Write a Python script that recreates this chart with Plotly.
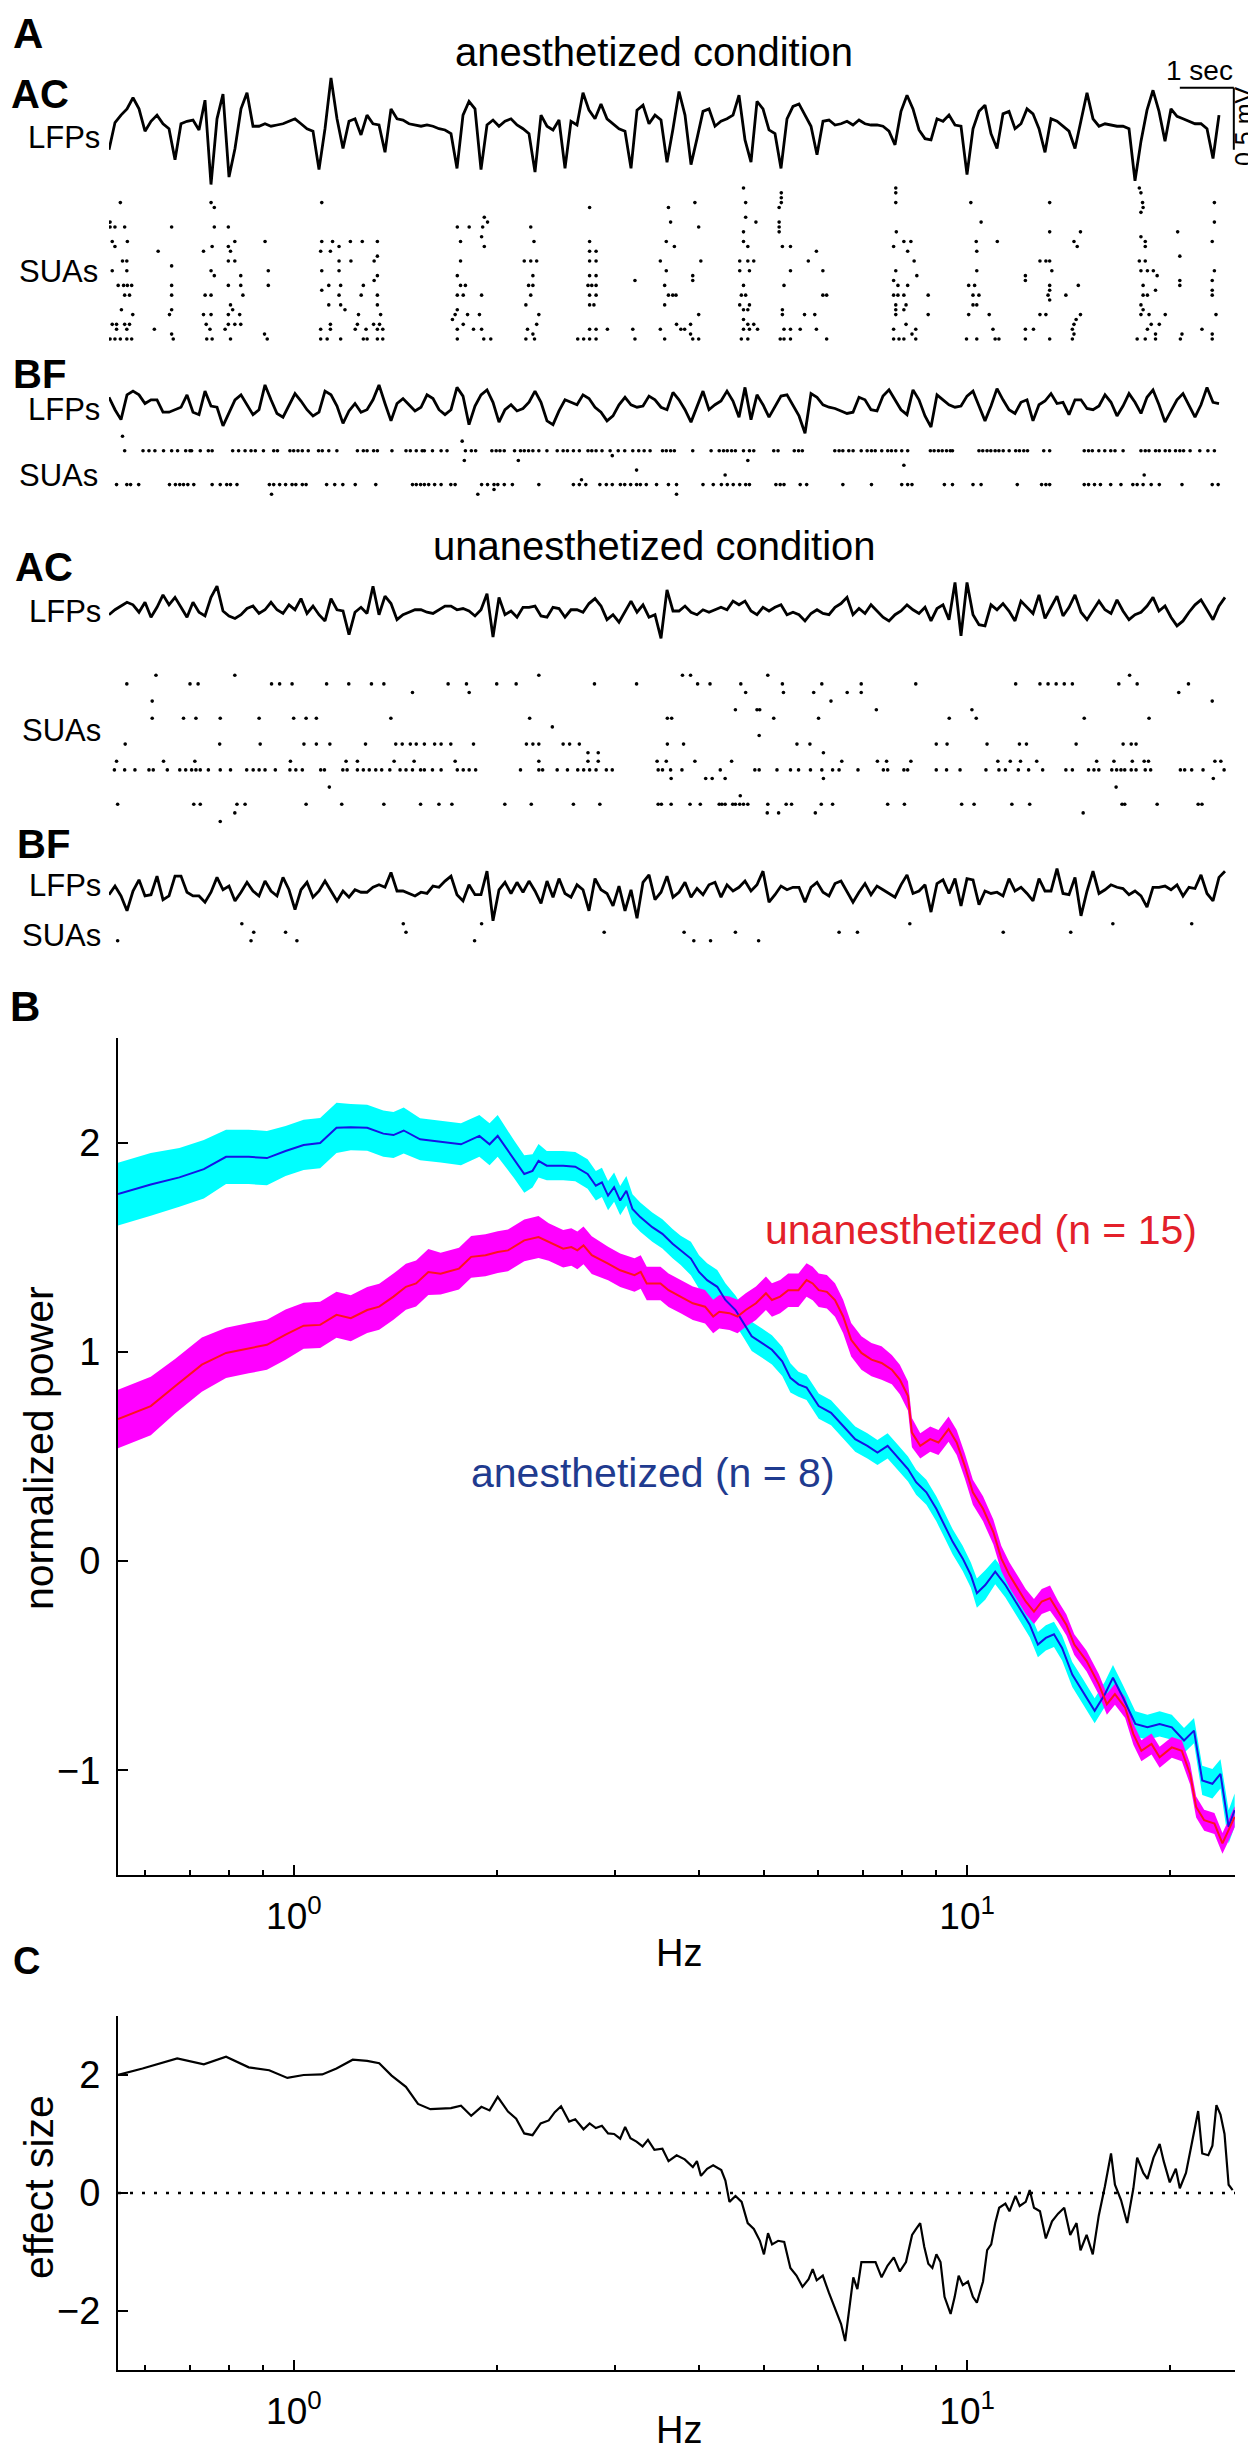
import numpy as np
import plotly.graph_objects as go

W, H = 1256, 2453
FONT = "Liberation Sans, Arial, Helvetica, sans-serif"

# ---------------- Panel A: LFP traces (mV), one value every 1/9 s ----------------
LFP_DT = 1 / 9

AC_AN_LFP = [
    -0.20, 0.02, 0.08, 0.13, 0.22, 0.13, -0.05, 0.03, 0.08, 0.01,
    -0.03, -0.28, 0.01, 0.03, 0.04, -0.04, 0.20, -0.48, 0.05, 0.25,
    -0.42, -0.19, 0.13, 0.26, -0.01, -0.01, 0.01, -0.01, 0.00, 0.01,
    0.03, 0.05, 0.01, -0.03, -0.05, -0.36, -0.03, 0.38, 0.05, -0.19,
    0.03, 0.05, -0.08, 0.08, 0.01, 0.00, -0.22, 0.13, 0.05, 0.04,
    0.01, 0.00, -0.01, 0.00, -0.01, -0.03, -0.04, -0.07, -0.35, 0.08,
    0.19, 0.13, -0.36, 0.00, 0.04, -0.01, 0.03, 0.05, 0.00, -0.03,
    -0.07, -0.38, 0.08, -0.01, -0.04, 0.04, -0.35, 0.03, 0.00, 0.26,
    0.12, 0.05, 0.17, 0.05, 0.01, -0.03, -0.05, -0.35, 0.12, 0.16,
    0.01, 0.08, 0.04, -0.30, -0.03, 0.27, 0.08, -0.32, -0.11, 0.11,
    0.13, -0.01, 0.03, 0.05, 0.08, 0.24, -0.12, -0.30, 0.19, 0.13,
    -0.04, -0.07, -0.35, 0.05, 0.15, 0.17, 0.08, -0.01, -0.24, 0.03,
    0.04, 0.00, 0.01, 0.03, 0.00, 0.04, 0.01, 0.00, 0.00, -0.01,
    -0.05, -0.16, 0.11, 0.24, 0.13, -0.04, -0.11, -0.12, 0.05, 0.03,
    0.08, 0.00, -0.01, -0.40, -0.03, 0.11, 0.16, -0.07, -0.19, 0.09,
    0.11, -0.03, 0.01, 0.13, 0.09, -0.03, -0.22, 0.05, 0.03, -0.01,
    -0.05, -0.19, 0.05, 0.26, 0.05, -0.01, 0.01, 0.00, -0.01, -0.01,
    -0.03, -0.45, -0.13, 0.12, 0.28, 0.11, -0.13, 0.13, 0.07, 0.05,
    0.03, 0.01, 0.01, -0.03, -0.27, 0.08,
]

BF_AN_LFP = [
    0.07, -0.03, -0.11, 0.09, 0.12, 0.09, 0.02, 0.05, 0.05, -0.05,
    -0.05, -0.03, -0.01, 0.09, -0.05, -0.07, 0.12, 0.00, -0.01, -0.16,
    -0.06, 0.05, 0.09, 0.01, -0.07, -0.03, 0.17, 0.05, -0.06, -0.09,
    0.01, 0.10, 0.04, -0.03, -0.08, -0.05, 0.12, 0.09, 0.00, -0.14,
    -0.04, 0.02, -0.05, -0.03, 0.05, 0.17, 0.02, -0.12, 0.02, 0.06,
    0.01, -0.04, -0.01, 0.09, 0.06, -0.03, -0.07, -0.03, 0.15, 0.08,
    -0.15, 0.00, 0.09, 0.13, 0.03, -0.13, -0.03, 0.01, -0.04, -0.02,
    0.03, 0.12, 0.03, -0.12, -0.15, -0.04, 0.05, 0.03, 0.01, 0.09,
    0.06, -0.01, -0.05, -0.12, -0.08, 0.01, 0.07, 0.01, -0.01, 0.00,
    0.08, 0.05, -0.01, -0.03, 0.11, 0.05, -0.03, -0.13, -0.01, 0.12,
    -0.03, 0.01, 0.04, 0.12, 0.04, -0.09, 0.15, -0.11, 0.09, 0.01,
    -0.09, 0.00, 0.08, 0.09, 0.01, -0.08, -0.22, 0.10, 0.07, 0.01,
    -0.01, -0.02, -0.04, -0.06, -0.05, 0.07, 0.05, -0.03, -0.04, 0.08,
    0.13, 0.05, -0.03, -0.07, 0.13, 0.05, -0.08, -0.17, 0.09, 0.05,
    0.01, -0.01, 0.00, 0.08, 0.12, 0.00, -0.12, 0.00, 0.14, 0.05,
    -0.03, -0.06, 0.03, 0.05, -0.12, 0.01, 0.04, 0.10, 0.02, 0.03,
    -0.07, 0.05, 0.05, -0.02, -0.03, 0.00, 0.09, 0.03, -0.08, 0.00,
    0.10, 0.03, -0.06, 0.07, 0.13, 0.01, -0.13, -0.04, 0.05, 0.10,
    0.01, -0.09, 0.01, 0.15, 0.03, 0.02,
]

AC_UN_LFP = [
    -0.03, 0.01, 0.04, 0.07, 0.05, -0.01, 0.07, -0.05, 0.03, 0.13,
    0.05, 0.11, 0.03, -0.05, 0.07, -0.01, -0.04, 0.11, 0.20, 0.00,
    -0.04, -0.06, -0.03, 0.02, 0.04, -0.02, 0.01, 0.07, 0.01, -0.02,
    0.05, 0.01, 0.10, -0.02, 0.04, -0.03, -0.08, 0.10, 0.01, 0.00,
    -0.19, -0.01, 0.03, -0.02, 0.20, -0.03, 0.12, 0.06, -0.07, -0.03,
    -0.01, 0.01, 0.01, -0.01, -0.02, 0.01, 0.04, 0.04, 0.01, 0.02,
    0.00, -0.04, 0.01, 0.14, -0.21, 0.11, -0.03, 0.00, -0.05, 0.03,
    0.03, 0.04, -0.04, -0.05, 0.03, 0.02, -0.05, 0.01, 0.01, -0.01,
    0.06, 0.10, 0.04, -0.07, -0.03, -0.09, -0.01, 0.08, -0.01, 0.05,
    -0.05, -0.03, -0.22, 0.17, 0.00, 0.00, 0.04, -0.01, -0.03, 0.01,
    -0.01, 0.01, 0.03, 0.01, 0.08, 0.05, 0.08, 0.00, -0.03, 0.03,
    0.00, 0.03, 0.05, -0.03, -0.01, -0.03, -0.08, -0.02, 0.01, -0.02,
    -0.03, 0.03, 0.06, 0.11, -0.03, 0.02, -0.02, 0.05, 0.00, -0.05,
    -0.08, -0.03, 0.00, 0.05, 0.01, -0.02, 0.03, -0.08, 0.02, 0.05,
    -0.07, 0.23, -0.20, 0.23, -0.03, -0.11, -0.12, 0.05, 0.01, 0.06,
    0.00, -0.08, 0.08, 0.03, -0.02, 0.13, -0.06, 0.03, 0.12, -0.04,
    0.03, 0.13, -0.01, -0.07, 0.01, 0.08, 0.01, -0.02, 0.09, 0.00,
    -0.07, -0.03, -0.01, 0.04, 0.11, 0.00, 0.04, -0.05, -0.12, -0.08,
    -0.01, 0.05, 0.09, 0.01, -0.07, 0.04, 0.11,
]

BF_UN_LFP = [
    -0.03, 0.04, -0.04, -0.16, 0.00, 0.09, -0.04, -0.03, 0.12, -0.07,
    -0.04, 0.12, 0.12, -0.01, -0.04, -0.04, -0.09, -0.01, 0.11, 0.01,
    0.04, -0.08, -0.01, 0.07, 0.00, -0.04, 0.08, 0.00, -0.04, 0.11,
    0.01, -0.15, 0.01, 0.07, -0.05, 0.00, 0.08, 0.00, -0.08, 0.00,
    -0.05, 0.01, -0.01, -0.01, 0.03, 0.05, 0.03, 0.15, 0.00, 0.00,
    -0.02, -0.04, -0.01, -0.02, 0.04, 0.03, 0.08, 0.12, -0.03, -0.08,
    0.05, -0.03, -0.03, 0.16, -0.24, 0.01, 0.07, -0.02, 0.07, -0.01,
    0.08, 0.00, -0.10, 0.08, -0.05, 0.10, -0.02, -0.05, 0.05, 0.01,
    -0.16, 0.10, 0.01, -0.02, -0.12, 0.04, -0.16, 0.01, -0.22, 0.07,
    0.13, -0.07, -0.01, 0.12, -0.05, -0.01, 0.07, -0.05, 0.02, -0.03,
    0.05, 0.07, -0.05, 0.05, 0.00, 0.03, 0.08, 0.00, 0.05, 0.16,
    -0.09, -0.03, 0.04, 0.01, 0.03, 0.03, -0.09, 0.03, 0.07, -0.01,
    -0.04, 0.06, 0.08, -0.01, -0.09, -0.01, 0.06, -0.03, 0.04, 0.01,
    -0.02, -0.05, 0.05, 0.13, -0.02, 0.00, 0.05, -0.17, 0.06, 0.09,
    -0.02, 0.10, -0.12, 0.10, 0.09, -0.11, 0.00, -0.02, -0.01, -0.04,
    0.10, 0.00, 0.03, -0.02, -0.08, 0.10, 0.00, 0.00, 0.18, -0.02,
    -0.03, 0.11, -0.20, 0.00, 0.16, -0.02, 0.01, 0.05, 0.03, 0.02,
    -0.03, 0.00, -0.04, -0.13, 0.03, 0.03, 0.04, 0.01, 0.05, -0.04,
    0.03, 0.02, 0.13, -0.02, -0.08, 0.11, 0.16,
]

# ---------------- Panel A: spike rasters, spike times (s) per unit (row) ----------------
AC_AN_SPIKES = [
    [11.75, 14.57, 19.08],
    [12.45, 14.57, 19.11],
    [12.45],
    [0.21, 1.89, 3.94, 10.85, 11.79, 12.45, 14.57, 15.96, 17.42, 19.14, 20.47],
    [1.95, 8.90, 10.36, 12.41, 19.15],
    [19.11],
    [6.95, 11.79],
    [0.02, 7.01, 10.40, 11.98, 12.41, 16.15, 20.47],
    [0.02, 0.11, 0.29, 1.16, 1.95, 2.21, 6.45, 6.67, 6.92, 7.81, 10.92, 12.41],
    [11.75, 12.41, 14.58, 17.42, 17.99, 19.79],
    [6.90, 19.11],
    [0.06, 0.34, 2.33, 2.89, 3.94, 4.14, 4.47, 4.69, 4.97, 6.51, 7.87, 8.90, 10.32,
     11.75, 14.72, 14.85, 16.06, 16.45, 17.87, 19.19, 20.43],
    [0.11, 1.91, 2.21, 4.26, 6.95, 10.47, 11.83, 12.47, 12.62, 14.53, 17.93, 19.19],
    [0.91, 1.75, 2.25, 3.92, 4.10, 8.90, 9.02, 13.10, 14.79, 16.07],
    [4.97, 19.83],
    [0.25, 0.33, 2.21, 2.33, 4.26, 4.48, 4.91, 6.51, 7.69, 7.81, 7.92, 8.90, 9.02,
     10.21, 10.96, 11.68, 11.83, 11.94, 12.95, 14.91, 17.24, 17.35, 17.42, 19.08, 19.19],
    [1.16],
    [0.06, 0.33, 1.89, 2.95, 3.94, 4.26, 10.32, 11.68, 11.86, 12.62, 13.22, 14.57,
     16.07, 17.46, 19.11, 19.23, 19.34, 20.47],
    [1.95, 2.44, 4.97, 6.45, 7.85, 8.90, 9.02, 10.81, 14.96, 16.97, 19.41],
    [4.91, 9.74, 10.81, 14.53, 16.97, 19.83, 20.43],
    [0.17, 0.27, 0.34, 0.42, 1.16, 2.21, 2.44, 2.95, 4.07, 4.29, 4.71, 6.51, 6.60,
     7.77, 7.85, 8.87, 8.94, 9.02, 10.29, 11.75, 12.50, 14.61, 14.79, 15.92, 16.03,
     17.42, 17.95, 19.15, 19.83],
    [3.94, 17.42, 19.38, 20.43],
    [0.29, 0.38, 1.16, 1.78, 1.89, 2.48, 4.26, 4.67, 4.97, 6.45, 6.56, 6.90, 7.81,
     8.90, 9.02, 10.36, 10.44, 10.50, 11.71, 11.79, 13.22, 13.29, 14.53, 14.61, 14.72,
     15.17, 16.00, 16.11, 17.39, 17.72, 19.15, 19.23, 20.43],
    [17.42],
    [2.25, 4.07, 4.29, 4.97, 7.72, 8.90, 8.98, 10.29, 11.68, 11.86, 14.57, 14.76,
     16.00, 16.07, 19.11],
    [0.23, 1.16, 2.29, 4.37, 6.45, 11.75, 11.83, 12.47, 14.57, 14.72, 19.15],
    [0.44, 1.12, 1.75, 1.89, 2.21, 2.42, 4.62, 5.03, 6.41, 6.64, 6.86, 7.96, 10.92,
     12.47, 12.88, 13.07, 14.57, 15.17, 15.92, 16.30, 17.24, 17.35, 17.99, 19.11,
     19.26, 19.56, 20.50],
    [6.36, 11.75, 17.91],
    [0.06, 0.14, 0.29, 0.38, 1.80, 2.21, 2.33, 2.44, 4.10, 4.60, 4.90, 5.01, 6.56,
     7.92, 10.51, 10.77, 11.83, 11.94, 14.76, 17.87, 19.30, 19.45],
    [0.14, 0.33, 0.84, 1.87, 2.15, 3.92, 4.10, 4.56, 4.76, 4.97, 5.07, 6.45, 6.75,
     6.90, 7.75, 8.90, 9.02, 9.23, 9.70, 10.21, 10.59, 10.66, 11.75, 11.86, 12.01,
     12.50, 12.62, 12.80, 13.10, 14.53, 14.94, 16.37, 16.97, 17.12, 17.84, 19.23, 20.24],
    [1.16, 2.88, 7.85, 10.77, 14.87, 17.87, 19.38, 19.87, 20.43],
    [0.02, 0.11, 0.21, 0.33, 0.42, 1.19, 1.81, 1.91, 2.25, 2.93, 3.92, 4.04, 4.29,
     4.71, 4.78, 4.97, 5.07, 6.45, 6.94, 7.07, 7.72, 7.88, 8.68, 8.79, 8.90, 9.02,
     9.74, 10.29, 10.81, 10.92, 11.71, 11.83, 12.43, 12.50, 12.62, 13.29, 14.53,
     14.63, 14.72, 14.94, 15.88, 16.07, 16.41, 16.48, 16.97, 17.42, 17.84, 19.04,
     19.19, 19.38, 19.84, 20.43],
]

BF_AN_SPIKES = [
    [0.25],
    [6.54],
    [],
    [0.29, 0.63, 0.74, 0.85, 1.01, 1.16, 1.27, 1.42, 1.50, 1.53, 1.69, 1.84, 1.91,
     2.29, 2.40, 2.52, 2.63, 2.71, 2.86, 3.05, 3.12, 3.35, 3.42, 3.50, 3.58, 3.69,
     3.88, 3.95, 4.07, 4.22, 4.60, 4.71, 4.78, 4.90, 4.97, 5.24, 5.50, 5.58, 5.69,
     5.80, 5.84, 5.99, 6.15, 6.26, 6.60, 6.71, 6.79, 7.09, 7.17, 7.24, 7.32, 7.51,
     7.62, 7.69, 7.77, 7.85, 7.96, 8.11, 8.30, 8.41, 8.49, 8.60, 8.71, 8.87, 8.94,
     9.02, 9.13, 9.28, 9.43, 9.55, 9.70, 9.81, 9.91, 10.02, 10.25, 10.32, 10.40,
     10.47, 10.81, 11.15, 11.30, 11.38, 11.45, 11.53, 11.60, 11.75, 11.86, 11.94,
     12.31, 12.39, 12.69, 12.77, 12.84, 13.44, 13.52, 13.59, 13.70, 13.78, 13.93,
     14.04, 14.12, 14.19, 14.31, 14.42, 14.49, 14.57, 14.68, 14.79, 15.21, 15.28,
     15.36, 15.43, 15.51, 15.58, 15.62, 16.11, 16.18, 16.26, 16.33, 16.41, 16.48,
     16.56, 16.67, 16.79, 16.86, 16.94, 17.01, 17.31, 17.42, 18.06, 18.14, 18.21,
     18.33, 18.44, 18.55, 18.63, 18.78, 19.11, 19.19, 19.26, 19.38, 19.45, 19.56,
     19.64, 19.75, 19.83, 19.90, 20.02, 20.20, 20.35, 20.47],
    [9.32],
    [6.58, 7.58, 11.83],
    [14.72],
    [9.77],
    [11.41, 19.17],
    [8.75],
    [0.14, 0.33, 0.40, 0.55, 1.12, 1.23, 1.31, 1.38, 1.46, 1.57, 1.91, 2.06, 2.18,
     2.25, 2.37, 2.97, 3.05, 3.16, 3.27, 3.39, 3.46, 3.58, 3.65, 4.03, 4.18, 4.33,
     4.56, 4.94, 5.62, 5.69, 5.77, 5.84, 5.92, 6.03, 6.15, 6.33, 6.41, 6.90, 7.01,
     7.13, 7.20, 7.32, 7.47, 7.96, 8.60, 8.71, 8.83, 9.09, 9.21, 9.32, 9.47, 9.55,
     9.66, 9.77, 9.84, 9.95, 10.14, 10.36, 10.51, 11.00, 11.19, 11.34, 11.45, 11.56,
     11.68, 11.79, 11.86, 12.35, 12.43, 12.50, 12.80, 12.92, 13.59, 14.12, 14.68,
     14.79, 14.87, 15.47, 15.62, 16.00, 16.15, 16.82, 17.27, 17.35, 17.42, 18.06,
     18.14, 18.25, 18.36, 18.55, 18.74, 18.96, 19.04, 19.15, 19.30, 19.45, 19.87,
     20.43, 20.54],
    [7.13],
    [3.01, 6.83, 10.51],
]

AC_UN_SPIKES = [
    [0.87, 2.33, 7.96, 10.62, 10.77, 12.20, 18.90],
    [0.33, 1.50, 1.65, 3.01, 3.16, 3.39, 4.03, 4.44, 4.86, 5.09, 6.28, 6.62, 7.18,
     7.54, 8.99, 9.77, 10.90, 11.13, 11.70, 12.47, 13.20, 13.93, 14.94, 16.79, 17.24,
     17.39, 17.54, 17.69, 17.84, 18.70, 19.04, 19.99],
    [5.62, 6.67, 11.79, 12.49, 13.05, 13.67, 13.93, 19.81],
    [0.80, 13.37, 20.43],
    [11.60, 12.00, 12.05, 14.21, 15.98],
    [0.80, 1.38, 1.61, 2.06, 2.78, 3.42, 3.65, 3.84, 5.22, 7.79, 10.34, 10.42, 12.31,
     13.14, 15.56, 16.06, 18.06, 19.26],
    [8.21],
    [12.04],
    [0.30, 2.05, 2.80, 3.61, 3.84, 4.09, 4.75, 5.31, 5.43, 5.58, 5.69, 5.84, 6.03,
     6.15, 6.33, 6.75, 7.73, 7.85, 7.96, 8.41, 8.53, 8.71, 10.34, 10.64, 12.74, 12.98,
     15.32, 15.52, 16.26, 16.86, 16.99, 17.91, 18.78, 18.93, 19.02],
    [8.87, 9.06, 13.23],
    [0.14, 1.01, 1.59, 3.36, 4.39, 4.60, 5.28, 5.65, 6.41, 7.96, 8.87, 9.06, 10.15,
     10.32, 10.85, 11.53, 13.57, 14.23, 14.40, 14.85, 16.46, 16.69, 16.88, 17.18,
     18.29, 18.61, 18.95, 19.17, 19.25, 20.48, 20.59],
    [0.10, 0.29, 0.48, 0.74, 0.82, 1.08, 1.31, 1.42, 1.53, 1.61, 1.69, 1.84, 2.06,
     2.25, 2.55, 2.67, 2.78, 2.89, 3.08, 3.35, 3.46, 3.58, 3.92, 3.99, 4.33, 4.41,
     4.60, 4.71, 4.82, 4.94, 5.05, 5.20, 5.39, 5.50, 5.62, 5.77, 5.84, 5.99, 6.15,
     6.45, 6.56, 6.67, 6.79, 7.62, 7.96, 8.03, 8.30, 8.49, 8.68, 8.79, 8.90, 9.02,
     9.21, 9.32, 10.17, 10.25, 10.40, 10.61, 11.32, 11.96, 12.04, 12.37, 12.62, 12.77,
     12.99, 13.20, 13.40, 13.52, 13.87, 14.34, 14.42, 14.72, 14.79, 15.32, 15.51,
     15.76, 16.24, 16.48, 16.60, 16.84, 17.03, 17.29, 17.72, 17.84, 18.14, 18.24,
     18.33, 18.57, 18.66, 18.74, 18.81, 18.93, 19.02, 19.19, 19.29, 19.84, 19.92,
     20.05, 20.26, 20.65],
    [10.41, 11.05, 11.17, 11.41, 13.23, 20.45],
    [4.08, 18.65],
    [11.69],
    [0.16, 1.57, 1.69, 2.37, 2.52, 3.65, 4.31, 5.09, 5.77, 6.11, 6.35, 7.33, 7.82,
     8.60, 9.09, 10.17, 10.23, 10.41, 10.76, 10.95, 11.30, 11.35, 11.41, 11.55, 11.60,
     11.68, 11.75, 11.83, 12.20, 12.54, 12.64, 13.19, 13.40, 14.42, 14.73, 15.79,
     16.02, 16.72, 17.05, 18.76, 18.81, 19.41, 20.17, 20.24],
    [2.33, 12.19, 12.40, 13.08, 18.04],
    [2.06],
]

BF_UN_SPIKES = [
    [2.46, 5.45, 6.90, 14.83, 18.59, 20.05],
    [2.68, 3.27, 5.50, 9.17, 10.65, 11.60, 13.52, 13.86, 16.56, 17.81],
    [0.16, 2.63, 3.48, 6.77, 10.83, 11.14, 12.03],
]

SCALE_SEC = 1.0
SCALE_MV = 0.5

# ---------------- Panel B: normalized power spectra ----------------
AN_HZ = [
    0.548, 0.613, 0.676, 0.735, 0.793, 0.857, 0.912, 0.972, 1.034, 1.094,
    1.157, 1.215, 1.285, 1.358, 1.406, 1.456, 1.540, 1.652, 1.771, 1.886,
    1.953, 2.008, 2.123, 2.199, 2.262, 2.309, 2.375, 2.512, 2.618, 2.731,
    2.809, 2.868, 2.929, 2.990, 3.053, 3.118, 3.184, 3.270, 3.407, 3.527,
    3.652, 3.755, 3.888, 3.998, 4.110, 4.255, 4.375, 4.529, 4.657, 4.787,
    4.960, 5.130, 5.314, 5.464, 5.617, 5.775, 6.020, 6.280, 6.545, 6.820,
    7.110, 7.360, 7.620, 7.890, 8.170, 8.400, 8.700, 9.000, 9.260, 9.520,
    9.850, 10.13, 10.34, 10.64, 11.01, 11.40, 11.89, 12.39, 12.74, 13.09,
    13.46, 13.84, 14.33, 14.84, 15.47, 16.02, 16.47, 17.04, 17.78, 18.53,
    19.32, 20.14, 21.00, 21.73, 22.35, 23.14, 23.79, 24.46, 24.97,
]
AN_POWER = [
    1.754, 1.800, 1.834, 1.873, 1.932, 1.932, 1.926, 1.960, 1.989, 1.998,
    2.071, 2.074, 2.071, 2.043, 2.036, 2.058, 2.016, 2.005, 1.992, 2.032,
    1.992, 2.032, 1.921, 1.850, 1.865, 1.913, 1.890, 1.890, 1.885, 1.850,
    1.794, 1.810, 1.747, 1.787, 1.723, 1.770, 1.683, 1.644, 1.596, 1.564,
    1.517, 1.485, 1.446, 1.382, 1.343, 1.311, 1.248, 1.200, 1.137, 1.074,
    1.042, 1.010, 0.955, 0.876, 0.845, 0.830, 0.741, 0.709, 0.646, 0.583,
    0.551, 0.519, 0.551, 0.496, 0.440, 0.377, 0.329, 0.250, 0.171, 0.092,
    0.013, -0.067, -0.153, -0.114, -0.050, -0.114, -0.210, -0.304, -0.399, -0.367,
    -0.350, -0.415, -0.542, -0.620, -0.715, -0.636, -0.557, -0.652, -0.778, -0.794,
    -0.778, -0.794, -0.857, -0.810, -1.048, -1.064, -1.017, -1.270, -1.190,
]
AN_SEM = [
    0.15, 0.15, 0.14, 0.14, 0.13, 0.13, 0.13, 0.12, 0.12, 0.12,
    0.12, 0.11, 0.11, 0.11, 0.11, 0.11, 0.10, 0.10, 0.10, 0.10,
    0.10, 0.10, 0.09, 0.09, 0.08, 0.08, 0.07, 0.07, 0.07, 0.07,
    0.07, 0.07, 0.07, 0.07, 0.07, 0.07, 0.07, 0.07, 0.07, 0.07,
    0.07, 0.07, 0.08, 0.08, 0.08, 0.08, 0.08, 0.07, 0.07, 0.07,
    0.07, 0.07, 0.07, 0.07, 0.06, 0.06, 0.06, 0.06, 0.06, 0.06,
    0.06, 0.06, 0.06, 0.06, 0.06, 0.06, 0.06, 0.06, 0.06, 0.06,
    0.06, 0.06, 0.07, 0.07, 0.06, 0.06, 0.06, 0.06, 0.06, 0.06,
    0.06, 0.06, 0.06, 0.06, 0.06, 0.06, 0.06, 0.06, 0.06, 0.06,
    0.06, 0.06, 0.06, 0.06, 0.07, 0.07, 0.07, 0.08, 0.08,
]

UN_HZ = [
    0.548, 0.613, 0.666, 0.730, 0.793, 0.857, 0.912, 0.972, 1.034, 1.094,
    1.157, 1.215, 1.285, 1.339, 1.406, 1.467, 1.519, 1.584, 1.652, 1.759,
    1.834, 1.926, 2.008, 2.080, 2.199, 2.309, 2.391, 2.512, 2.583, 2.637,
    2.693, 2.770, 2.929, 3.053, 3.206, 3.275, 3.343, 3.504, 3.602, 3.755,
    3.914, 4.081, 4.196, 4.285, 4.436, 4.560, 4.690, 4.857, 5.026, 5.130,
    5.276, 5.424, 5.617, 5.775, 5.897, 6.020, 6.190, 6.365, 6.545, 6.727,
    6.966, 7.210, 7.464, 7.730, 7.945, 8.170, 8.280, 8.520, 8.815, 9.067,
    9.386, 9.650, 9.920, 10.20, 10.56, 10.94, 11.24, 11.56, 11.89, 12.22,
    12.57, 12.91, 13.28, 13.65, 14.04, 14.43, 15.05, 15.69, 16.13, 16.58,
    17.17, 17.66, 18.15, 18.79, 19.32, 20.14, 20.84, 21.44, 21.89, 22.50,
    23.30, 23.95, 24.46, 24.97,
]
UN_POWER = [
    0.679, 0.741, 0.836, 0.939, 0.995, 1.018, 1.034, 1.082, 1.125, 1.129,
    1.177, 1.161, 1.200, 1.216, 1.264, 1.311, 1.327, 1.382, 1.374, 1.398,
    1.454, 1.462, 1.477, 1.485, 1.533, 1.549, 1.525, 1.493, 1.501, 1.485,
    1.509, 1.462, 1.422, 1.390, 1.367, 1.382, 1.327, 1.327, 1.295, 1.264,
    1.232, 1.216, 1.169, 1.192, 1.185, 1.169, 1.200, 1.232, 1.280, 1.248,
    1.264, 1.295, 1.295, 1.343, 1.327, 1.295, 1.287, 1.248, 1.169, 1.058,
    0.995, 0.963, 0.947, 0.915, 0.868, 0.789, 0.614, 0.551, 0.583, 0.567,
    0.631, 0.567, 0.456, 0.329, 0.250, 0.139, 0.013, -0.067, -0.130, -0.193,
    -0.241, -0.193, -0.177, -0.241, -0.304, -0.399, -0.478, -0.589, -0.684, -0.636,
    -0.700, -0.827, -0.906, -0.874, -0.937, -0.890, -0.906, -1.017, -1.175, -1.238,
    -1.254, -1.349, -1.286, -1.222,
]
UN_SEM = [
    0.14, 0.14, 0.13, 0.13, 0.12, 0.12, 0.12, 0.12, 0.11, 0.11,
    0.11, 0.11, 0.11, 0.11, 0.11, 0.11, 0.11, 0.11, 0.10, 0.10,
    0.10, 0.10, 0.10, 0.10, 0.10, 0.10, 0.09, 0.09, 0.09, 0.09,
    0.09, 0.09, 0.08, 0.08, 0.08, 0.08, 0.08, 0.08, 0.08, 0.08,
    0.08, 0.08, 0.08, 0.08, 0.08, 0.08, 0.08, 0.08, 0.08, 0.08,
    0.08, 0.08, 0.08, 0.08, 0.08, 0.08, 0.08, 0.08, 0.08, 0.08,
    0.08, 0.08, 0.08, 0.07, 0.07, 0.07, 0.07, 0.06, 0.06, 0.06,
    0.06, 0.06, 0.06, 0.06, 0.06, 0.06, 0.06, 0.06, 0.06, 0.06,
    0.06, 0.06, 0.06, 0.05, 0.05, 0.05, 0.05, 0.05, 0.05, 0.05,
    0.05, 0.05, 0.05, 0.05, 0.05, 0.05, 0.05, 0.05, 0.05, 0.05,
    0.05, 0.05, 0.05, 0.05,
]

# ---------------- Panel C: effect size ----------------
ES_HZ = [
    0.548, 0.596, 0.671, 0.735, 0.793, 0.857, 0.919, 0.978, 1.034, 1.102,
    1.157, 1.223, 1.285, 1.339, 1.397, 1.467, 1.529, 1.595, 1.711, 1.771,
    1.834, 1.899, 1.953, 2.008, 2.080, 2.139, 2.199, 2.262, 2.326, 2.391,
    2.441, 2.494, 2.564, 2.618, 2.693, 2.750, 2.809, 2.868, 2.929, 2.990,
    3.053, 3.105, 3.162, 3.228, 3.296, 3.357, 3.432, 3.527, 3.602, 3.703,
    3.807, 3.914, 3.969, 4.024, 4.110, 4.196, 4.314, 4.375, 4.436, 4.529,
    4.625, 4.722, 4.822, 4.923, 4.992, 5.062, 5.132, 5.240, 5.350, 5.464,
    5.579, 5.695, 5.815, 5.897, 5.979, 6.105, 6.233, 6.365, 6.499, 6.590,
    6.682, 6.776, 6.871, 6.966, 7.112, 7.311, 7.464, 7.620, 7.783, 7.945,
    8.114, 8.285, 8.400, 8.518, 8.637, 8.758, 8.880, 9.003, 9.131, 9.257,
    9.452, 9.585, 9.716, 9.854, 10.03, 10.20, 10.34, 10.56, 10.71, 10.86,
    11.01, 11.16, 11.40, 11.56, 11.80, 11.97, 12.22, 12.39, 12.57, 12.83,
    13.09, 13.37, 13.65, 13.94, 14.23, 14.54, 14.74, 15.05, 15.37, 15.69,
    16.02, 16.36, 16.58, 16.93, 17.29, 17.66, 17.89, 18.27, 18.53, 18.92,
    19.32, 19.59, 20.00, 20.42, 20.70, 21.14, 21.59, 22.04, 22.35, 22.82,
    23.14, 23.46, 23.79, 24.12, 24.46, 24.80,
]
EFFECT_SIZE = [
    2.00, 2.11, 2.28, 2.18, 2.31, 2.13, 2.08, 1.95, 2.00, 2.01,
    2.11, 2.26, 2.24, 2.20, 1.99, 1.80, 1.51, 1.42, 1.44, 1.48,
    1.31, 1.46, 1.40, 1.63, 1.38, 1.26, 1.01, 0.98, 1.18, 1.23,
    1.37, 1.47, 1.21, 1.25, 1.08, 1.18, 1.10, 1.14, 1.01, 1.00,
    0.92, 1.12, 0.93, 0.87, 0.79, 0.90, 0.73, 0.75, 0.54, 0.64,
    0.57, 0.44, 0.54, 0.29, 0.41, 0.47, 0.39, 0.21, -0.15, -0.05,
    -0.15, -0.51, -0.61, -0.81, -1.04, -0.68, -0.87, -0.81, -0.83, -1.27,
    -1.40, -1.59, -1.46, -1.29, -1.48, -1.40, -1.69, -1.96, -2.22, -2.51,
    -1.99, -1.43, -1.63, -1.17, -1.17, -1.17, -1.43, -1.23, -1.09, -1.33,
    -1.17, -0.71, -0.61, -0.51, -0.91, -1.20, -1.27, -1.04, -1.17, -1.76,
    -2.05, -1.76, -1.40, -1.56, -1.50, -1.76, -1.86, -1.50, -0.97, -0.87,
    -0.51, -0.25, -0.18, -0.31, -0.05, -0.22, -0.15, 0.05, -0.25, -0.31,
    -0.77, -0.48, -0.35, -0.25, -0.71, -0.51, -0.97, -0.71, -1.04, -0.38,
    0.11, 0.67, 0.14, -0.12, -0.51, 0.08, 0.60, 0.34, 0.24, 0.60,
    0.83, 0.54, 0.18, 0.41, 0.08, 0.34, 0.87, 1.39, 0.67, 0.64,
    0.80, 1.49, 1.33, 1.00, 0.14, 0.05,
]

RED_LABEL = "#e3202a"
BLUE_LABEL = "#1f3b8f"


def ydom(top_px, bottom_px):
    return [1 - bottom_px / H, 1 - top_px / H]


def lfp_axis(baseline_px, lo, hi, px_per_mv=124):
    return dict(domain=ydom(baseline_px - hi * px_per_mv, baseline_px - lo * px_per_mv),
                range=[lo, hi], visible=False, anchor="x", fixedrange=True)


def raster_axis(row0_px, pitch, nrows):
    return dict(domain=ydom(row0_px - 0.5 * pitch, row0_px + (nrows - 0.5) * pitch),
                range=[nrows - 0.5, -0.5], visible=False, anchor="x", fixedrange=True)


def flatten(rows):
    xs, ys = [], []
    for r, times in enumerate(rows):
        xs += times
        ys += [r] * len(times)
    return xs, ys


fig = go.Figure()

# ---- panel A traces ----
lfps = [(AC_AN_LFP, "y"), (BF_AN_LFP, "y3"), (AC_UN_LFP, "y5"), (BF_UN_LFP, "y7")]
for vals, yax in lfps:
    t = np.arange(len(vals)) * LFP_DT
    fig.add_trace(go.Scatter(x=t, y=vals, mode="lines", xaxis="x", yaxis=yax,
                             line=dict(color="black", width=2.8), hoverinfo="skip"))

rasters = [(AC_AN_SPIKES, "y2"), (BF_AN_SPIKES, "y4"), (AC_UN_SPIKES, "y6"), (BF_UN_SPIKES, "y8")]
for rows, yax in rasters:
    xs, ys = flatten(rows)
    fig.add_trace(go.Scatter(x=xs, y=ys, mode="markers", xaxis="x", yaxis=yax,
                             marker=dict(color="black", size=3.6, symbol="circle"),
                             hoverinfo="skip"))

# ---- panel B ----
def band(hz, mean, sem, fill):
    up = [m + s for m, s in zip(mean, sem)]
    lo = [m - s for m, s in zip(mean, sem)]
    return go.Scatter(x=list(hz) + list(hz)[::-1], y=up + lo[::-1], fill="toself",
                      fillcolor=fill, mode="none", xaxis="x2", yaxis="y9",
                      hoverinfo="skip")


fig.add_trace(band(AN_HZ, AN_POWER, AN_SEM, "#00ffff"))
fig.add_trace(band(UN_HZ, UN_POWER, UN_SEM, "#ff00ff"))
fig.add_trace(go.Scatter(x=AN_HZ, y=AN_POWER, mode="lines", xaxis="x2", yaxis="y9",
                         line=dict(color="#1414e6", width=2)))
fig.add_trace(go.Scatter(x=UN_HZ, y=UN_POWER, mode="lines", xaxis="x2", yaxis="y9",
                         line=dict(color="#ff1020", width=2)))

# ---- panel C ----
fig.add_trace(go.Scatter(x=ES_HZ, y=EFFECT_SIZE, mode="lines", xaxis="x3", yaxis="y10",
                         line=dict(color="black", width=2.2)))

# ---- axes ----
T_RANGE = [0, 21]
x_a = dict(domain=[101 / W, (101 + 54 * T_RANGE[1]) / W], range=T_RANGE,
           visible=False, anchor="y", fixedrange=True)

LOG_RANGE = [np.log10(0.548), np.log10(25.0)]
MINOR_HZ = [0.6, 0.7, 0.8, 0.9, 2, 3, 4, 5, 6, 7, 8, 9, 20]


def hz_axis(anchor):
    return dict(type="log", domain=[110 / W, 1227 / W], range=LOG_RANGE, anchor=anchor,
                showline=True, linecolor="black", linewidth=2, showgrid=False,
                zeroline=False, ticks="inside", ticklen=10, tickwidth=2,
                tickcolor="black", tickvals=[1, 10],
                ticktext=["10<sup>0</sup>", "10<sup>1</sup>"],
                tickfont=dict(size=37, color="black", family=FONT),
                ticklabelstandoff=8,
                minor=dict(tickvals=MINOR_HZ, ticks="inside", ticklen=5, tickwidth=2,
                           tickcolor="black", showgrid=False))


y_b = dict(domain=ydom(1030, 1867), range=[-1.5, 2.5], anchor="x2",
           showline=True, linecolor="black", linewidth=2, showgrid=False, zeroline=False,
           ticks="inside", ticklen=10, tickwidth=2, tickcolor="black",
           tickvals=[-1, 0, 1, 2], tickfont=dict(size=38, color="black", family=FONT),
           ticklabelstandoff=8)
y_c = dict(domain=ydom(2008, 2362), range=[-3, 3], anchor="x3",
           showline=True, linecolor="black", linewidth=2, showgrid=False, zeroline=False,
           ticks="inside", ticklen=10, tickwidth=2, tickcolor="black",
           tickvals=[-2, 0, 2], tickfont=dict(size=38, color="black", family=FONT),
           ticklabelstandoff=8)

fig.update_layout(
    width=W, height=H, margin=dict(l=0, r=0, t=0, b=0),
    paper_bgcolor="white", plot_bgcolor="rgba(0,0,0,0)", showlegend=False,
    font=dict(family=FONT, color="black"),
    xaxis=x_a,
    yaxis=lfp_axis(117, -0.55, 0.50),
    yaxis2=raster_axis(180, 4.87, len(AC_AN_SPIKES)),
    yaxis3=lfp_axis(398, -0.30, 0.30),
    yaxis4=raster_axis(428.3, 4.83, len(BF_AN_SPIKES)),
    yaxis5=lfp_axis(603, -0.30, 0.30),
    yaxis6=raster_axis(667.3, 8.6, len(AC_UN_SPIKES)),
    yaxis7=lfp_axis(883, -0.30, 0.30),
    yaxis8=raster_axis(915.7, 8.5, len(BF_UN_SPIKES)),
    xaxis2=hz_axis("y9"),
    yaxis9=y_b,
    xaxis3=hz_axis("y10"),
    yaxis10=y_c,
)

# scale bar (1 s, 0.5 mV) on the AC anesthetized LFP axis
SB_T, SB_TOP = 19.83, 0.30
fig.add_shape(type="line", xref="x", yref="y", x0=SB_T, x1=SB_T + SCALE_SEC,
              y0=SB_TOP, y1=SB_TOP, line=dict(color="black", width=2))
fig.add_shape(type="line", xref="x", yref="y", x0=SB_T + SCALE_SEC, x1=SB_T + SCALE_SEC,
              y0=SB_TOP, y1=SB_TOP - SCALE_MV, line=dict(color="black", width=2))

# dotted zero line in panel C
fig.add_shape(type="line", xref="x3 domain", yref="y10", x0=0, x1=1, y0=0, y1=0,
              line=dict(color="black", width=2.5, dash="3px,9px"))


def label(text, x_px, y_px, size, xanchor="center", color="black", angle=0):
    fig.add_annotation(text=text, x=x_px / W, y=1 - y_px / H, xref="paper", yref="paper",
                       xanchor=xanchor, yanchor="middle", showarrow=False, textangle=angle,
                       borderpad=0, font=dict(size=size, color=color, family=FONT))


label("<b>A</b>", 20, 25, 42)
label("anesthetized condition", 646, 44, 40)
label("<b>AC</b>", 2, 86, 40, xanchor="left")
label("LFPs", 93, 129, 31, xanchor="right")
label("SUAs", 91, 263, 31, xanchor="right")
label("1 sec", 1191, 63, 28)
label("0.5 mV", 1236, 118, 25, angle=-90)
label("<b>BF</b>", 4, 366, 40, xanchor="left")
label("LFPs", 93, 401, 31, xanchor="right")
label("SUAs", 91, 468, 31, xanchor="right")
label("unanesthetized condition", 646, 538, 40)
label("<b>AC</b>", 6, 559, 40, xanchor="left")
label("LFPs", 94, 604, 31, xanchor="right")
label("SUAs", 94, 722, 31, xanchor="right")
label("<b>BF</b>", 8, 836, 40, xanchor="left")
label("LFPs", 94, 877, 31, xanchor="right")
label("SUAs", 94, 927, 31, xanchor="right")

label("<b>B</b>", 17, 999, 42)
label("normalized power", 31, 1440, 41, angle=-90)
label("Hz", 671, 1945, 38)
label("unanesthetized (n = 15)", 973, 1222, 41, color=RED_LABEL)
label("anesthetized (n = 8)", 645, 1465, 41, color=BLUE_LABEL)

label("<b>C</b>", 18, 1953, 38)
label("effect size", 31, 2179, 41, angle=-90)
label("Hz", 671, 2422, 38)

fig.write_html("out.html")
